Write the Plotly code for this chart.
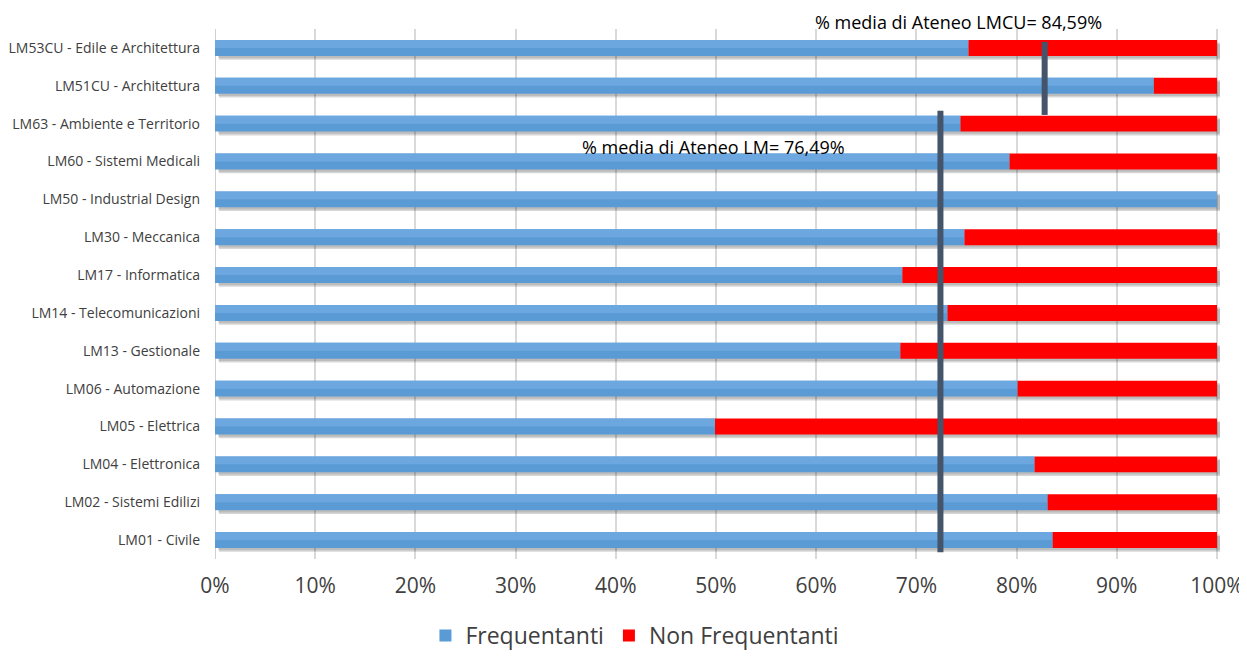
import plotly.graph_objects as go

categories = [
    "LM01 - Civile",
    "LM02 - Sistemi Edilizi",
    "LM04 - Elettronica",
    "LM05 - Elettrica",
    "LM06 - Automazione",
    "LM13 - Gestionale",
    "LM14 - Telecomunicazioni",
    "LM17 - Informatica",
    "LM30 - Meccanica",
    "LM50 - Industrial Design",
    "LM60 - Sistemi Medicali",
    "LM63 - Ambiente e Territorio",
    "LM51CU - Architettura",
    "LM53CU - Edile e Architettura",
]
frequentanti = [83.6, 83.1, 81.8, 49.9, 80.1, 68.4, 73.1, 68.6, 74.8, 100.0, 79.3, 74.4, 93.7, 75.2]
non_frequentanti = [round(100 - v, 1) for v in frequentanti]

media_lm = 72.4          # position of the LM average line
media_lmcu = 82.8        # position of the LMCU average line
label_lm = "% media di Ateneo LM= 76,49%"
label_lmcu = "% media di Ateneo LMCU= 84,59%"
x_ticks = [0, 10, 20, 30, 40, 50, 60, 70, 80, 90, 100]
x_tick_labels = [f"{t}%" for t in x_ticks]

ypos = list(range(len(categories)))
BW = 0.42
BLUE = "#5B9BD5"
BLUE_LIGHT = "#6CA8DF"
RED = "#FF0000"
LINE = "#44546A"
FONT = "Open Sans, sans-serif"
totals = [f + n for f, n in zip(frequentanti, non_frequentanti)]

fig = go.Figure()

# drop shadow beneath bars
fig.add_trace(go.Bar(
    y=[p - 0.1 for p in ypos], x=totals,
    orientation="h", width=BW, marker=dict(color="rgba(0,0,0,0.16)", line=dict(width=0)),
    showlegend=False, hoverinfo="skip", base=0.4,
))
fig.add_trace(go.Bar(
    y=[p - 0.06 for p in ypos], x=totals,
    orientation="h", width=BW, marker=dict(color="rgba(0,0,0,0.12)", line=dict(width=0)),
    showlegend=False, hoverinfo="skip", base=0.3,
))

fig.add_trace(go.Bar(
    y=ypos, x=frequentanti, orientation="h", name="Frequentanti",
    width=BW, marker=dict(color=BLUE, line=dict(width=0)), base=0,
))
# lighter top half to mimic gradient
fig.add_trace(go.Bar(
    y=[p + BW / 4 for p in ypos], x=frequentanti, orientation="h",
    width=BW / 2, marker=dict(color=BLUE_LIGHT, line=dict(width=0)), base=0,
    showlegend=False, hoverinfo="skip",
))
fig.add_trace(go.Bar(
    y=ypos, x=non_frequentanti, orientation="h", name="Non Frequentanti",
    width=BW, marker=dict(color=RED, line=dict(width=0)), base=frequentanti,
))

fig.update_layout(barmode="overlay")

# average lines
fig.add_shape(type="line", xref="x", yref="y", x0=media_lm, x1=media_lm,
              y0=-0.32, y1=11.34, line=dict(color=LINE, width=6), layer="above")
fig.add_shape(type="line", xref="x", yref="y", x0=media_lmcu, x1=media_lmcu,
              y0=11.23, y1=13.16, line=dict(color=LINE, width=6), layer="above")

fig.add_annotation(x=49.8, y=10.38, xref="x", yref="y", text=label_lm, showarrow=False,
                   font=dict(family=FONT, size=18, color="#000"), yanchor="middle")
fig.add_annotation(x=74.2, y=1.013, xref="x", yref="paper", text=label_lmcu, showarrow=False,
                   font=dict(family=FONT, size=18, color="#000"), yanchor="middle")

fig.update_xaxes(
    range=[0, 100.3], tickvals=x_ticks, ticktext=x_tick_labels,
    showgrid=True, gridcolor="#D9D9D9", gridwidth=2, zeroline=False,
    tickfont=dict(family=FONT, size=21, color="#404040"),
    ticks="", showline=False, fixedrange=True, automargin=False, ticklabelstandoff=12,
)
fig.update_yaxes(
    range=[-0.5, 13.5], tickvals=ypos, ticktext=categories,
    showgrid=False, zeroline=False, showline=False, ticks="",
    tickfont=dict(family=FONT, size=14, color="#404040"),
    ticklabelstandoff=14, automargin=False,
)
# left axis line
fig.add_shape(type="line", xref="x", yref="paper", x0=0, x1=0, y0=0, y1=1,
              line=dict(color="#D0D0D0", width=2), layer="below")

fig.update_layout(
    width=1239, height=649,
    margin=dict(l=207, r=27, t=21, b=98, autoexpand=False),
    plot_bgcolor="white", paper_bgcolor="white",
    legend=dict(orientation="h", xref="container", x=0.506, xanchor="center",
                yref="container", y=0.0, yanchor="bottom",
                font=dict(family=FONT, size=23, color="#404040"),
                traceorder="normal", itemsizing="constant"),
)

fig.write_html("out.html")
